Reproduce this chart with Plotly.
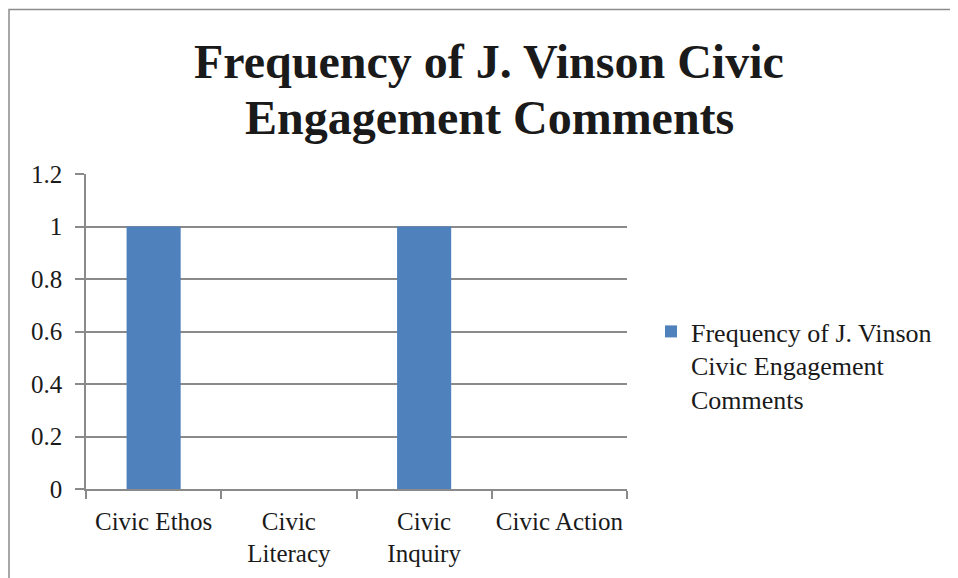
import plotly.graph_objects as go

categories = ["Civic Ethos", "Civic<br>Literacy", "Civic<br>Inquiry", "Civic Action"]
values = [1, 0, 1, 0]
series_name = "Frequency of J. Vinson<br>Civic Engagement<br>Comments"
title_lines = ["Frequency of J. Vinson Civic", "Engagement Comments"]
y_ticks = [0, 0.2, 0.4, 0.6, 0.8, 1, 1.2]
y_tick_text = ["0", "0.2", "0.4", "0.6", "0.8", "1", "1.2"]

OFF = 8  # page body margin
W, H = 958 - OFF, 578 - OFF
# plot area in screen pixels: x 86..627, y 174..489
L = 86 - OFF
T = 174 - OFF
R = W - (627 - OFF)
B = H - (489 - OFF)
pw, ph = W - L - R, H - T - B

def px_x(p):  # screen px -> paper x
    return (p - OFF - L) / pw

def px_y(p):  # screen px -> paper y
    return (H - B - (p - OFF)) / ph

font = "Liberation Serif, Times New Roman, serif"
grid = "#8a8a8a"
txt = "#1a1a1a"

fig = go.Figure()
fig.add_trace(go.Bar(x=categories, y=values, name=series_name,
                     marker=dict(color="#4F81BD", line=dict(width=0)),
                     width=0.4, showlegend=True))

fig.update_layout(
    width=W, height=H,
    margin=dict(l=L, r=R, t=T, b=B, autoexpand=False),
    paper_bgcolor="white", plot_bgcolor="white",
    font=dict(family=font, size=25, color=txt),
    showlegend=True,
    legend=dict(x=px_x(651), xanchor="left", y=px_y(308), yanchor="top",
                valign="top",
                font=dict(family=font, size=26, color=txt),
                bgcolor="rgba(0,0,0,0)", itemwidth=30, tracegroupgap=0),
)
for i, line in enumerate(title_lines):
    fig.add_annotation(text="<b>" + line + "</b>", xref="paper", yref="paper",
                       x=px_x(489), y=px_y(62 + 55 * i), xanchor="center", yanchor="middle",
                       showarrow=False, font=dict(family=font, size=48, color=txt))

fig.update_yaxes(range=[0, 1.2], tickvals=y_ticks, ticktext=y_tick_text,
                 showgrid=True, gridcolor=grid, gridwidth=1.5,
                 showline=True, linecolor=grid, linewidth=1.5,
                 ticks="outside", ticklen=9, tickcolor=grid, tickwidth=1.5,
                 zeroline=False, tickfont=dict(size=25), ticklabelstandoff=8)
fig.update_xaxes(type="category", showline=True, linecolor=grid, linewidth=1.5,
                 ticks="outside", tickson="boundaries", ticklen=8, tickcolor=grid, tickwidth=1.5,
                 showgrid=False, tickfont=dict(size=25), tickangle=0, ticklabelstandoff=9)

# chart frame
fig.add_shape(type="rect", xref="paper", yref="paper",
              x0=px_x(9), x1=px_x(990), y0=px_y(9.5), y1=px_y(600),
              line=dict(color="#8c8c8c", width=1.5), fillcolor="rgba(0,0,0,0)", layer="below")

fig.write_html("out.html")
